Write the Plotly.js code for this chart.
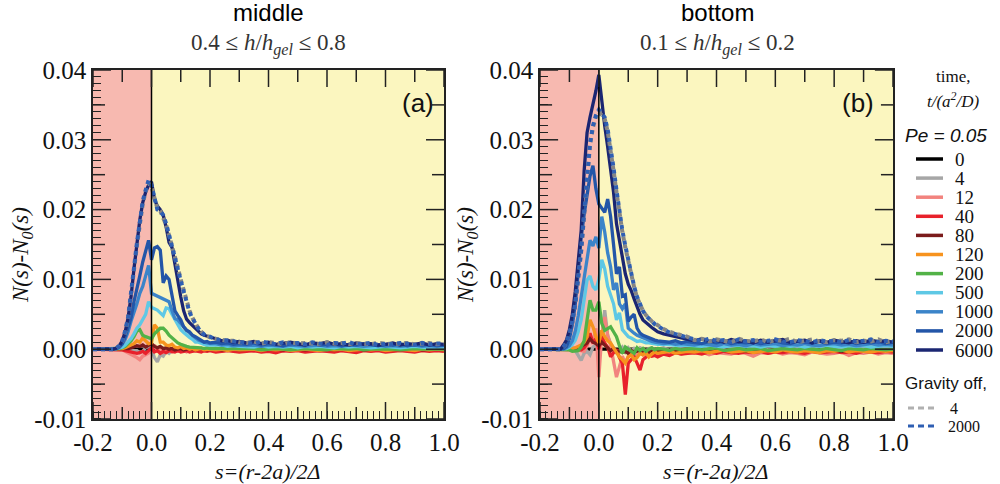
<!DOCTYPE html>
<html>
<head>
<meta charset="utf-8">
<script src="https://cdn.plot.ly/plotly-3.0.1.min.js"></script>
<style>html,body{margin:0;padding:0;background:#fff;}#chart{width:1000px;height:484px;}</style>
</head>
<body>
<div id="chart"></div>
<script>
// s = (r-2a)/2Δ sample positions
var sVals = [-0.2,-0.15,-0.13,-0.12,-0.11,-0.10,-0.09,-0.08,-0.07,-0.06,-0.05,-0.04,-0.03,-0.02,-0.01,0.00,
 0.01,0.02,0.03,0.04,0.05,0.06,0.07,0.08,0.09,0.10,0.11,0.12,0.13,0.14,0.15,0.16,0.17,0.18,0.19,0.20,0.22,0.24,0.26,0.28,0.30,
 0.325,0.35,0.375,0.40,0.425,0.45,0.475,0.50,0.525,0.55,0.575,0.60,0.625,0.65,0.675,
 0.70,0.725,0.75,0.775,0.80,0.825,0.85,0.875,0.90,0.925,0.95,0.975,1.00];

// time labels t/(a^2/D)
var timeLabels = ['0','4','12','40','80','120','200','500','1000','2000','6000'];
var gravOffLabels = ['4','2000'];

// ---- middle panel (0.4 <= h/hgel <= 0.8), values of N(s)-N0(s) in units of 1e-3 ----
var mid_t0 = [0,0,0,0,0,0,0,0,0,0,0,0,0,0,0,0,
 0,0,0,0,0,0,0,0,0,0,0,0,0,0,0,0,0,0,0,0,0,0,0,0,0,
 0,0,0,0,0,0,0,0,0,0,0,0,0,0, 0,0,0,0,0,0,0,0,0,0,0,0,0,0];
var mid_t4 = [0,0,0,0,0,-0.1,-0.1,-0.1,-0.2,-0.2,-0.2,-0.5,-0.3,0.2,0.4,0.0,
 -1.2,-1.8,-0.8,-1.0,-0.3,-0.6,-0.2,0.2,-0.2,0.1,-0.1,0.0,0.1,-0.1,0.0,0.1,-0.1,0.0,0.1,0.0,-0.1,0.1,0.0,-0.1,0.1,
 0.0,0.1,-0.1,0.0,0.2,0.0,-0.1,0.1,0.0,-0.1,0.1,0.0,0.1,-0.1, 0.0,0.1,0.0,-0.1,0.0,0.1,0.0,-0.1,0.1,0.0,0.0,0.1,-0.1,0.0];
var mid_t12 = [0,0,0,0,0,-0.1,-0.3,-0.5,-0.7,-1.0,-1.2,-1.5,-1.0,-0.8,-0.5,-0.3,
 0.6,-0.2,0.0,-0.5,-0.3,-0.1,-0.4,-0.2,-0.3,-0.1,-0.2,-0.4,-0.2,-0.1,-0.3,-0.2,-0.1,-0.3,-0.2,-0.1,-0.2,-0.3,-0.1,-0.2,-0.2,
 -0.1,-0.3,-0.2,-0.1,-0.2,-0.3,-0.1,-0.2,-0.2,-0.1,-0.3,-0.2,-0.1,-0.2, -0.3,-0.1,-0.2,-0.2,-0.1,-0.3,-0.2,-0.1,-0.2,-0.3,-0.1,-0.2,-0.2,-0.1];
var mid_t40 = [0,0,0,0,0,-0.1,-0.2,-0.3,-0.4,-0.5,-0.6,-0.5,-0.3,-0.6,-0.2,0.2,
 -0.4,-0.2,-0.6,-0.3,-0.5,-0.2,-0.3,-0.4,-0.2,-0.4,-0.3,-0.2,-0.4,-0.3,-0.2,-0.3,-0.4,-0.2,-0.3,-0.2,-0.4,-0.3,-0.2,-0.3,-0.4,
 -0.3,-0.2,-0.4,-0.3,-0.5,-0.2,-0.3,-0.2,-0.4,-0.3,-0.2,-0.3,-0.4,-0.2, -0.3,-0.5,-0.2,-0.3,-0.2,-0.4,-0.3,-0.2,-0.3,-0.4,-0.2,-0.3,-0.2,-0.3];
var mid_t80 = [0,0,0,0,0,0,0,0.1,0.2,0.3,0.5,0.4,0.6,0.3,0.5,0.8,
 0.4,0.2,0.4,0.1,0.2,0.0,0.1,-0.1,0.0,0.1,-0.1,0.0,0.1,0.0,-0.1,0.0,0.1,0.0,-0.1,0.0,0.1,-0.1,0.0,0.0,-0.1,
 0.0,0.1,-0.1,0.0,0.0,-0.1,0.1,0.0,-0.1,0.0,0.1,0.0,-0.1,0.0, 0.0,0.1,-0.1,0.0,0.1,0.0,-0.1,0.0,0.0,0.1,-0.1,0.0,0.0,-0.1];
var mid_t120 = [0,0,0,0,0,0.1,0.2,0.4,0.6,0.8,1.2,1.0,1.6,1.2,0.8,0.9,
 3.5,3.0,1.0,1.0,0.6,0.5,0.7,0.3,0.2,0.4,0.1,0.2,0.0,0.1,-0.1,0.0,0.1,-0.1,0.0,0.0,-0.1,0.0,-0.2,0.0,-0.1,
 -0.1,0.0,-0.2,0.0,-0.1,0.0,-0.2,-0.1,0.0,-0.1,-0.2,0.0,-0.1,0.0, -0.2,-0.1,0.0,-0.1,0.0,-0.2,-0.1,0.0,-0.1,-0.2,0.0,-0.1,0.0,-0.1];
var mid_t200 = [0,0,0,0,0.1,0.2,0.4,0.8,1.2,1.8,2.6,2.8,2.0,1.8,1.6,1.5,
 2.2,2.6,3.0,3.0,2.6,2.0,1.6,1.2,0.9,0.7,0.5,0.4,0.3,0.3,0.2,0.3,0.2,0.1,0.2,0.1,0.1,0.0,0.1,0.0,0.1,
 0.0,0.1,-0.1,0.0,0.1,0.0,-0.1,0.0,0.1,0.0,0.0,-0.1,0.1,0.0, 0.0,0.1,-0.1,0.0,0.0,0.1,0.0,-0.1,0.0,0.1,0.0,0.0,-0.1,0.0];
var mid_t500 = [0,0,0,0.1,0.2,0.3,0.6,1.0,1.5,2.2,3.0,3.5,4.2,5.0,6.8,6.0,
 5.8,5.6,5.2,4.8,5.9,5.8,5.0,4.2,3.6,2.8,2.4,2.0,1.7,1.4,1.0,1.0,0.8,0.7,0.6,0.6,0.5,0.6,0.4,0.5,0.4,
 0.4,0.3,0.5,0.3,0.4,0.3,0.4,0.2,0.4,0.3,0.4,0.3,0.2,0.4, 0.3,0.4,0.3,0.2,0.3,0.4,0.3,0.2,0.3,0.4,0.3,0.2,0.3,0.3];
var mid_t1000 = [0,0,0,0.1,0.3,0.7,1.4,2.5,4.0,5.2,6.5,8.0,9.0,10.5,12.0,8.0,
 7.8,7.6,7.3,7.2,7.0,6.8,5.5,4.4,4.2,3.6,3.2,2.7,2.3,2.0,1.6,1.3,1.1,1.0,0.9,0.8,0.8,0.6,0.7,0.5,0.6,
 0.5,0.6,0.4,0.6,0.5,0.4,0.6,0.5,0.4,0.5,0.6,0.4,0.5,0.4, 0.6,0.5,0.4,0.5,0.6,0.4,0.5,0.4,0.5,0.6,0.4,0.5,0.4,0.5];
var mid_t2000 = [0,0,0,0.1,0.3,0.8,1.8,3.0,4.5,6.8,8.5,10.5,12.5,14.0,15.6,12.8,
 14.5,14.7,14.2,9.5,10.5,10.0,8.0,5.5,4.8,4.2,3.2,2.7,2.5,2.0,1.8,1.5,1.2,1.0,1.1,0.9,1.0,0.8,0.9,0.7,0.8,
 0.7,0.9,0.6,0.8,0.7,0.5,0.8,0.7,0.6,0.9,0.6,0.7,0.8,0.5, 0.7,0.6,0.8,0.7,0.5,0.7,0.6,0.8,0.5,0.7,0.6,0.7,0.5,0.6];
var mid_t6000 = [0,0,0,0.15,0.5,1.2,2.5,4.5,7.5,11.5,15.0,18.5,21.0,22.5,23.5,24.0,
 21.5,20.5,20.0,19.2,17.5,15.3,14.6,12.0,9.5,7.5,5.5,4.3,3.8,3.4,3.1,2.6,2.2,2.0,1.9,1.7,1.5,1.2,1.3,1.0,1.1,
 0.9,1.1,0.8,1.0,0.7,0.9,1.0,0.8,0.6,0.9,0.8,1.0,0.7,0.8, 0.6,0.9,0.7,0.8,0.6,0.7,0.9,0.6,0.8,0.7,0.9,0.6,0.8,0.7];
var mid_off4 = [0,0,0,0.15,0.5,1.1,2.4,4.4,7.4,11.3,14.8,18.3,20.8,22.6,23.8,23.2,
 21.5,20.2,19.8,18.8,17.8,16.3,14.9,13.2,11.7,10.0,8.4,6.8,5.5,4.5,3.6,3.0,2.5,2.1,1.9,1.7,1.5,1.3,1.2,1.2,1.0,
 0.9,1.1,0.8,1.0,0.9,0.7,1.0,0.8,0.9,0.8,0.7,1.0,0.8,0.9, 0.7,0.9,0.8,0.7,0.9,0.8,0.7,0.8,0.9,0.7,0.8,0.9,0.7,0.8];
var mid_off2000 = [0,0,0,0.15,0.5,1.2,2.6,4.6,7.6,11.6,15.2,18.6,21.2,22.8,24.2,23.5,
 21.5,20.0,19.8,19.2,18.0,16.5,15.0,13.2,11.5,9.8,8.2,6.6,5.3,4.4,3.6,3.0,2.5,2.1,1.9,1.8,1.4,1.3,1.2,1.1,1.0,
 1.0,0.8,1.1,0.9,0.7,1.0,0.8,0.9,0.7,1.0,0.8,0.6,0.9,0.8, 1.0,0.7,0.8,0.9,0.6,0.8,0.7,0.9,0.8,0.6,0.9,0.7,0.8,0.8];

// ---- bottom panel (0.1 <= h/hgel <= 0.2), values in units of 1e-3 ----
var bot_t0 = [0,0,0,0,0,0,0,0,0,0,0,0,0,0,0,0,
 0,0,0,0,0,0,0,0,0,0,0,0,0,0,0,0,0,0,0,0,0,0,0,0,0,
 0,0,0,0,0,0,0,0,0,0,0,0,0,0, 0,0,0,0,0,0,0,0,0,0,0,0,0,0];
var bot_t4 = [0,0,0,0,0,0,0,-0.2,-0.8,-1.6,-0.6,-0.3,-0.8,0.3,0.6,0.0,
 1.5,5.6,2.0,0.8,0.2,-0.5,-0.2,0.3,-0.4,0.2,-0.3,0.1,-0.2,0.2,0.0,-0.3,0.1,0.2,-0.1,0.0,0.2,-0.2,0.1,0.0,-0.1,
 0.1,-0.2,0.2,0.0,-0.1,0.3,0.0,-0.2,0.1,0.2,-0.1,0.0,0.2,-0.3, 0.1,0.0,-0.2,0.2,0.1,-0.1,0.0,0.2,-0.2,0.1,0.0,-0.1,0.2,0.0];
var bot_t12 = [0,0,0,0,0,0,0,0,0,-0.2,-0.3,0.5,1.5,0.8,3.0,-4.0,
 2.0,4.6,2.0,0.5,-1.5,-4.0,-2.5,-1.0,-2.0,-1.0,-0.5,-1.2,-0.6,-0.4,-0.8,-0.5,-0.7,-0.4,-0.6,-0.8,-0.5,-0.6,-0.4,-0.7,-0.5,
 -0.6,-0.4,-0.8,-0.5,-0.6,-0.7,-0.4,-0.6,-1.0,-0.5,-0.6,-0.4,-0.7,-0.5, -0.6,-0.8,-0.4,-0.5,-0.7,-0.6,-0.4,-0.9,-0.5,-0.6,-0.4,-0.7,-0.5,-0.6];
var bot_t40 = [0,0,0,0,0,0,0,0,0,-0.1,0.2,0.8,2.3,0.9,1.5,0.0,
 1.8,0.9,0.3,-1.1,-0.5,0.0,-1.2,-2.0,-6.5,-2.0,-1.5,-1.1,-2.0,-3.0,-1.5,-1.1,-0.8,-1.0,-0.9,-1.1,-0.7,-0.9,-0.5,-0.7,-0.6,
 -0.5,-0.7,-0.4,-0.6,-0.3,-0.5,-0.6,-0.4,-0.5,-0.3,-0.6,-0.4,-0.5,-0.3, -0.4,-0.6,-0.3,-0.5,-0.4,-0.3,-0.5,-0.4,-0.6,-0.3,-0.4,-0.5,-0.3,-0.4];
var bot_t80 = [0,0,0,0,0,0,0,0.1,0.2,0.4,0.6,0.9,1.5,1.0,0.8,0.5,
 1.0,0.6,0.2,-0.2,0.1,-0.4,-0.2,-0.5,-0.3,-0.6,-0.2,-0.4,-0.3,-0.1,-0.3,-0.2,-0.4,-0.1,-0.2,-0.3,-0.1,-0.2,-0.3,-0.1,-0.2,
 -0.2,-0.1,-0.3,-0.2,0.0,-0.2,-0.1,-0.3,-0.2,-0.1,-0.2,0.0,-0.2,-0.1, -0.3,-0.1,-0.2,0.0,-0.2,-0.1,-0.3,-0.2,-0.1,-0.2,0.0,-0.2,-0.1,-0.2];
var bot_t120 = [0,0,0,0,0,0,0.1,0.2,0.4,0.6,1.0,1.8,4.2,3.2,1.8,0.9,
 2.7,1.8,1.2,0.9,0.2,-0.5,-1.1,-1.5,-2.0,-1.1,-0.8,-1.5,-1.2,-0.6,-0.8,-0.5,-1.1,-0.7,-0.4,-0.6,-0.5,-0.3,-0.6,-0.4,-0.3,
 -0.4,-0.2,-0.5,-0.3,-0.1,-0.4,-0.3,-0.2,-0.5,-0.3,-0.2,-0.4,-0.1,-0.3, -0.4,-0.2,-0.3,-0.5,-0.2,-0.3,-0.1,-0.4,-0.2,-0.3,-0.4,-0.2,-0.3,-0.2];
var bot_t200 = [0,0,0,0,0,-0.1,-0.3,-0.3,-0.2,0.3,1.2,4.2,7.0,5.6,5.6,6.8,
 3.7,2.7,3.0,3.2,2.5,1.8,0.5,-0.6,0.3,0.0,-0.4,-0.6,0.2,-0.2,0.1,-0.3,0.0,0.2,-0.1,0.1,0.0,-0.2,0.1,-0.1,0.0,
 0.1,-0.1,0.0,0.2,-0.2,0.0,0.1,-0.1,0.0,0.1,-0.2,0.0,0.1,0.0, -0.1,0.1,0.0,-0.1,0.1,0.0,-0.2,0.1,0.0,-0.1,0.1,0.0,-0.1,0.0];
var bot_t500 = [0,0,0,0,0.1,0.3,0.7,1.3,2.5,4.2,7.0,9.9,10.5,9.0,8.5,10.0,
 12.8,11.5,9.0,7.6,6.5,4.2,5.2,2.8,2.2,1.8,1.6,1.3,1.1,1.2,1.0,0.9,0.9,0.8,0.8,0.7,0.7,0.6,0.6,0.5,0.6,
 0.5,0.4,0.6,0.5,0.3,0.5,0.6,0.4,0.5,0.3,0.5,0.4,0.6,0.4, 0.5,0.3,0.5,0.4,0.6,0.4,0.3,0.5,0.4,0.5,0.3,0.4,0.5,0.4];
var bot_t1000 = [0,0,0,0,0.2,0.5,1.2,2.6,4.8,7.5,10.5,13.5,15.6,14.8,16.1,14.5,
 19.0,16.8,13.8,11.8,8.5,9.5,6.5,5.8,6.5,3.0,2.6,2.3,2.0,1.8,1.6,1.4,1.2,1.1,1.0,0.9,0.8,0.9,0.7,0.8,0.7,
 0.6,0.8,0.7,0.5,0.8,0.6,0.7,0.5,0.8,0.6,0.7,0.8,0.5,0.7, 0.6,0.8,0.6,0.5,0.7,0.8,0.6,0.7,0.5,0.6,0.8,0.6,0.7,0.6];
var bot_t2000 = [0,0,0,0.1,0.4,1.5,3.5,6.5,11.0,16.0,19.3,22.5,24.8,26.3,23.0,20.8,
 20.2,19.6,21.5,19.0,15.0,10.8,11.8,7.6,7.8,4.0,4.6,5.0,3.0,2.3,2.0,1.8,1.6,1.4,1.3,1.2,1.1,1.0,1.2,0.9,1.1,
 1.0,0.8,1.1,0.9,1.2,0.8,1.0,0.9,1.1,0.8,1.0,1.2,0.9,0.8, 1.1,1.0,0.9,1.1,0.8,1.0,0.9,1.2,0.8,1.0,0.9,1.1,0.8,1.0];
var bot_t6000 = [0,0,0,0.6,1.3,2.8,5.0,8.3,12.5,17.0,25.5,31.0,33.2,35.0,37.0,39.3,
 35.5,32.0,29.0,25.7,22.5,18.0,15.8,13.0,10.8,9.3,8.4,7.2,6.0,5.0,4.2,3.8,3.4,3.1,2.8,2.5,2.2,2.0,1.8,1.6,1.4,
 1.2,1.5,1.1,1.3,1.0,1.4,1.1,1.2,0.9,1.3,1.0,1.2,1.4,1.0, 1.1,1.3,0.9,1.2,1.0,1.3,1.1,0.9,1.2,1.0,1.3,1.1,1.2,1.0];
var bot_off4 = [0,0,0,0.3,0.9,2.1,3.8,6.3,9.8,14.0,19.2,24.6,29.2,31.8,33.2,34.0,
 33.5,33.0,31.2,28.6,25.6,22.5,19.3,16.8,14.6,12.6,10.7,8.9,7.4,6.4,5.5,4.9,4.4,4.0,3.7,3.4,2.9,2.5,2.2,2.0,1.8,
 1.3,1.5,1.1,1.4,1.2,1.0,1.5,1.2,1.1,1.4,1.0,1.3,1.2,1.5, 1.0,1.2,1.4,1.1,1.0,1.3,1.2,1.4,1.0,1.2,1.1,1.4,1.0,1.2];
var bot_off2000 = [0,0,0,0.3,1.0,2.2,4.0,6.5,10.0,14.2,19.5,25.0,29.5,32.0,33.5,34.3,
 33.8,33.2,31.5,29.0,26.0,22.8,19.5,17.0,14.8,12.8,10.8,9.0,7.5,6.4,5.5,4.8,4.3,4.0,3.6,3.3,2.8,2.4,2.2,1.9,1.7,
 1.4,1.2,1.5,1.2,1.3,1.0,1.4,1.1,1.3,1.0,1.2,1.4,1.1,1.0, 1.3,1.2,1.0,1.3,1.1,1.2,1.0,1.3,1.1,1.2,1.4,1.0,1.2,1.1];

// tick labels
var xTickVals = [-0.2,0.0,0.2,0.4,0.6,0.8,1.0];
var xTickText = ['-0.2','0.0','0.2','0.4','0.6','0.8','1.0'];
var xMidTicks = [-0.1,0.1,0.3,0.5,0.7,0.9];
var yTickVals = [-0.01,0.00,0.01,0.02,0.03,0.04];
var yTickText = ['-0.01','0.00','0.01','0.02','0.03','0.04'];
var yMidTicks = [-0.005,0.005,0.015,0.025,0.035];

var timeColors = ['#000000','#a6a6a6','#f2837e','#e8212b','#7b1b1c','#f7931e','#52b247','#5ec8e5','#3b84c9','#2356a8','#1b2672'];
var offColors = ['#858585','#2f5fb3'];

var midSeries = [mid_t0,mid_t4,mid_t12,mid_t40,mid_t80,mid_t120,mid_t200,mid_t500,mid_t1000,mid_t2000,mid_t6000];
var botSeries = [bot_t0,bot_t4,bot_t12,bot_t40,bot_t80,bot_t120,bot_t200,bot_t500,bot_t1000,bot_t2000,bot_t6000];
var midOff = [mid_off4, mid_off2000];
var botOff = [bot_off4, bot_off2000];

function toReal(arr){ return arr.map(function(v){ return v/1000; }); }

var traces = [];
function addPanel(series, off, xa, ya){
  series.forEach(function(arr, i){
    traces.push({x:sVals, y:toReal(arr), xaxis:xa, yaxis:ya, type:'scatter', mode:'lines',
      name:timeLabels[i], showlegend:false, hoverinfo:'skip',
      line:{color:timeColors[i], width:3.3}});
  });
  off.forEach(function(arr, i){
    traces.push({x:sVals, y:toReal(arr), xaxis:xa, yaxis:ya, type:'scatter', mode:'lines',
      name:'Gravity off '+gravOffLabels[i], showlegend:false, hoverinfo:'skip',
      line:{color:offColors[i], width:4, dash:'dot'}});
  });
}
addPanel(midSeries, midOff, 'x', 'y');
addPanel(botSeries, botOff, 'x2', 'y2');

var serif = 'Liberation Serif';
var sans = 'Liberation Sans';
var tickCol = '#222';

function xAxis(dom, anchor){
  return {domain:dom, anchor:anchor, range:[-0.2,1.0], tickmode:'array', tickvals:xTickVals, ticktext:xTickText,
    ticks:'', showline:true, linecolor:tickCol, linewidth:1.5, mirror:true, showgrid:false, zeroline:false,
    minor:{dtick:0.02, ticks:'inside', ticklen:8, tickwidth:1.2, tickcolor:tickCol},
    tickfont:{family:serif, size:25, color:'#111'}, fixedrange:true};
}
function yAxis(anchor){
  return {domain:[0.1343,0.8554], anchor:anchor, range:[-0.01,0.04], tickmode:'array', tickvals:yTickVals, ticktext:yTickText,
    ticks:'', showline:true, linecolor:tickCol, linewidth:1.5, mirror:true, showgrid:false, zeroline:false,
    minor:{dtick:0.001, ticks:'inside', ticklen:8, tickwidth:1.2, tickcolor:tickCol},
    tickfont:{family:serif, size:25, color:'#111'}, fixedrange:true};
}

var shapes = [
  {type:'rect', xref:'x', yref:'y domain', x0:-0.2, x1:0, y0:0, y1:1, fillcolor:'#f7b9b0', line:{width:0}, layer:'below'},
  {type:'rect', xref:'x2', yref:'y2 domain', x0:-0.2, x1:0, y0:0, y1:1, fillcolor:'#f7b9b0', line:{width:0}, layer:'below'},
  {type:'line', xref:'x', yref:'y domain', x0:0, x1:0, y0:0, y1:1, line:{color:'#000', width:1.5}, layer:'above'},
  {type:'line', xref:'x2', yref:'y2 domain', x0:0, x1:0, y0:0, y1:1, line:{color:'#000', width:1.5}, layer:'above'}
];

// major and mid tick marks drawn inside the frame, on all four sides (lengths as fractions of the plot box)
var plotW = 351, plotH = 349;
function addTicks(xr, yr){
  var xd = xr + ' domain', yd = yr + ' domain';
  function xt(v, len){
    var f = len/plotH;
    shapes.push({type:'line', xref:xr, yref:yd, x0:v, x1:v, y0:0, y1:f, line:{color:tickCol, width:1.5}, layer:'above'});
    shapes.push({type:'line', xref:xr, yref:yd, x0:v, x1:v, y0:1-f, y1:1, line:{color:tickCol, width:1.5}, layer:'above'});
  }
  function yt(v, len){
    var f = len/plotW;
    shapes.push({type:'line', xref:xd, yref:yr, x0:0, x1:f, y0:v, y1:v, line:{color:tickCol, width:1.5}, layer:'above'});
    shapes.push({type:'line', xref:xd, yref:yr, x0:1-f, x1:1, y0:v, y1:v, line:{color:tickCol, width:1.5}, layer:'above'});
  }
  xTickVals.forEach(function(v){ xt(v, 17); });
  xMidTicks.forEach(function(v){ xt(v, 12); });
  yTickVals.forEach(function(v){ yt(v, 18); });
  yMidTicks.forEach(function(v){ yt(v, 12); });
}
addTicks('x','y');
addTicks('x2','y2');

function py(p){ return 1 - p/484; }

var annotations = [
  {text:'middle', x:0.268, y:py(13), font:{family:sans, size:24, color:'#000'}},
  {text:'0.4 ≤ <i>h</i>/<i>h<sub>gel</sub></i> ≤ 0.8', x:0.268, y:py(44), font:{family:serif, size:23, color:'#333'}},
  {text:'bottom', x:0.717, y:py(13), font:{family:sans, size:24, color:'#000'}},
  {text:'0.1 ≤ <i>h</i>/<i>h<sub>gel</sub></i> ≤ 0.2', x:0.717, y:py(44), font:{family:serif, size:23, color:'#333'}},
  {text:'(a)', x:0.418, y:py(103), font:{family:sans, size:26, color:'#111'}},
  {text:'(b)', x:0.858, y:py(103), font:{family:sans, size:26, color:'#111'}},
  {text:'<i>N(s)-N<sub>0</sub>(s)</i>', x:0.022, y:py(255), textangle:-90, font:{family:serif, size:23, color:'#111'}},
  {text:'<i>N(s)-N<sub>0</sub>(s)</i>', x:0.467, y:py(255), textangle:-90, font:{family:serif, size:23, color:'#111'}},
  {text:'<i>s=(r-2a)/2Δ</i>', x:0.268, y:py(471), font:{family:serif, size:22, color:'#111'}},
  {text:'<i>s=(r-2a)/2Δ</i>', x:0.716, y:py(471), font:{family:serif, size:22, color:'#111'}},
  {text:'time,', x:0.953, y:py(77), font:{family:serif, size:17, color:'#111'}},
  {text:'<i>t/(a<sup>2</sup>/D)</i>', x:0.953, y:py(100), font:{family:serif, size:17, color:'#111'}},
  {text:'<i>Pe = 0.05</i>', x:0.946, y:py(135), font:{family:sans, size:19, color:'#111'}},
  {text:'Gravity off,', x:0.903, y:py(383), xanchor:'left', font:{family:sans, size:17, color:'#111'}}
];
timeLabels.forEach(function(lab, i){
  var yy = 159 + 19.1*i;
  annotations.push({text:lab, x:0.953, y:py(yy), xanchor:'left', font:{family:serif, size:19, color:'#111'}});
  shapes.push({type:'line', xref:'paper', yref:'paper', x0:0.916, x1:0.943, y0:py(yy), y1:py(yy), line:{color:timeColors[i], width:3.5}});
});
gravOffLabels.forEach(function(lab, i){
  var yy = 408 + 18*i;
  annotations.push({text:lab, x:(i===0?0.948:0.946), y:py(yy), xanchor:'left', font:{family:serif, size:16, color:'#111'}});
  shapes.push({type:'line', xref:'paper', yref:'paper', x0:0.908, x1:0.938, y0:py(yy), y1:py(yy), line:{color:(i===0?'#b0b0b0':offColors[1]), width:3, dash:'6px,4px'}});
});
annotations.forEach(function(a){
  a.xref='paper'; a.yref='paper'; a.showarrow=false;
  if(!a.xanchor) a.xanchor='center';
  a.yanchor='middle';
});

var layout = {
  width:1000, height:484, margin:{l:0,r:0,t:0,b:0},
  font:{family:serif},
  paper_bgcolor:'#ffffff', plot_bgcolor:'#fbf6bf', showlegend:false,
  xaxis:xAxis([0.093,0.444],'y'), yaxis:yAxis('x'),
  xaxis2:xAxis([0.540,0.893],'y2'), yaxis2:yAxis('x2'),
  shapes:shapes, annotations:annotations
};

Plotly.newPlot('chart', traces, layout, {displayModeBar:false});
</script>
</body>
</html>
